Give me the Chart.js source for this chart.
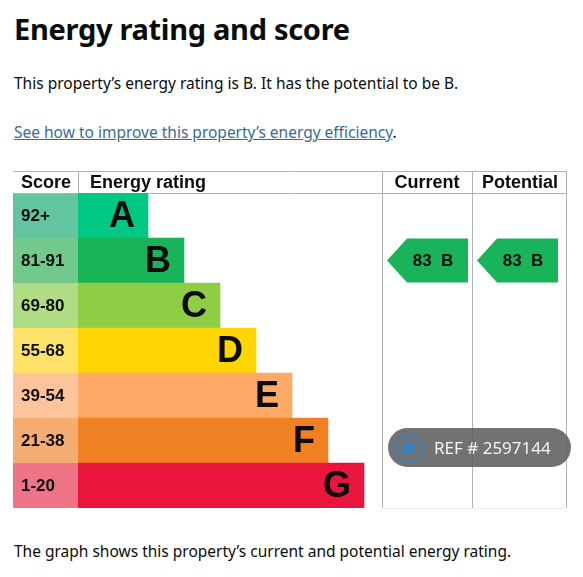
<!DOCTYPE html>
<html>
<head>
<meta charset="utf-8">
<script src="https://cdn.jsdelivr.net/npm/chart.js@4.4.1/dist/chart.umd.min.js"></script>
<style>
  body { margin: 0; width: 583px; height: 577px; background: #fff; font-family: "Noto Sans", sans-serif; color: #0b0c0c; position: relative; overflow: hidden; }
  h1 { position: absolute; left: 14px; top: 9px; margin: 0; font-size: 29px; font-weight: 700; letter-spacing: -0.3px; }
  p { position: absolute; left: 14px; margin: 0; font-size: 15.5px; }
  .intro { top: 72px; }
  .link { top: 121px; }
  .link a { color: #3a6c93; text-decoration: underline; }
  .caption { top: 540px; }
  #wrap { position: absolute; left: 0; top: 160px; width: 583px; height: 360px; }
  .ref { position: absolute; left: 388px; top: 428px; width: 183px; height: 39px; border-radius: 20px; background: rgba(95, 95, 95, 0.88); color: #f4f4f4; font-size: 17px; line-height: 39px; }
  .ref span { position: absolute; left: 46px; }
  .ref i { position: absolute; left: 6px; top: 5px; width: 26px; height: 26px; border: 2px solid #3f7fb8; border-radius: 50%; }
  .ref b { position: absolute; left: 14px; top: 14px; width: 14px; height: 12px; background: #3f7fb8; border-radius: 6px 6px 0 0; }
</style>
</head>
<body>
<h1>Energy rating and score</h1>
<p class="intro">This property’s energy rating is B. It has the potential to be B.</p>
<p class="link"><a>See how to improve this property’s energy efficiency</a>.</p>
<div id="wrap"><canvas id="epc" width="583" height="360"></canvas></div>
<div class="ref"><i></i><b></b><span>REF # 2597144</span></div>
<p class="caption">The graph shows this property’s current and potential energy rating.</p>

<script>
// Полосы рейтинга
const bands = ["A", "B", "C", "D", "E", "F", "G"];
const scoreRanges = ["92+", "81-91", "69-80", "55-68", "39-54", "21-38", "1-20"];
const bandLengths = [70, 106, 142, 178, 214, 250, 286];
const bandColors = ["#00c781", "#19b459", "#8dce46", "#ffd500", "#fcaa65", "#ef8023", "#e9153b"];
const scoreColors = ["#63c5a0", "#71c98d", "#b0dc84", "#fde267", "#fdc49b", "#f5ac72", "#f07488"];

// Текущий и потенциальный рейтинг
const currentScore = 83;
const currentBand = "B";
const potentialScore = 83;
const potentialBand = "B";

const LINE = "#b1b4b6";

const tablePlugin = {
    id: "epcTable",
    beforeDatasetsDraw(chart) {
        const { ctx, scales: { x, y } } = chart;
        const top = 11, head = 33, left = 13, right = 566;
        const bottom = chart.chartArea.bottom;
        const curL = x.getPixelForValue(304), potL = x.getPixelForValue(394);
        ctx.save();
        // ячейки с баллами
        bands.forEach((b, i) => {
            const cy = y.getPixelForValue(i);
            ctx.fillStyle = scoreColors[i];
            ctx.fillRect(left, cy - 22.5, chart.chartArea.left - left, 45);
            ctx.fillStyle = "#0b0c0c";
            ctx.font = "bold 17px 'Liberation Sans', Arial";
            ctx.textBaseline = "middle";
            ctx.fillText(scoreRanges[i], 21, cy + 1);
        });
        // линии таблицы
        ctx.strokeStyle = LINE;
        ctx.lineWidth = 1;
        ctx.beginPath();
        ctx.moveTo(left, top + 0.5); ctx.lineTo(right, top + 0.5);
        ctx.moveTo(left, head + 0.5); ctx.lineTo(right, head + 0.5);
        ctx.moveTo(chart.chartArea.left + 0.5, top); ctx.lineTo(chart.chartArea.left + 0.5, head);
        [curL, potL, right].forEach((px) => {
            ctx.moveTo(px + 0.5, top); ctx.lineTo(px + 0.5, bottom);
        });
        ctx.stroke();
        ctx.strokeStyle = "#ececec";
        ctx.beginPath();
        ctx.moveTo(curL, bottom + 0.5); ctx.lineTo(right, bottom + 0.5);
        ctx.stroke();
        // заголовки
        ctx.fillStyle = "#0b0c0c";
        ctx.font = "bold 18px 'Liberation Sans', Arial";
        ctx.textBaseline = "middle";
        ctx.textAlign = "left";
        ctx.fillText("Score", 21, 23);
        ctx.fillText("Energy rating", 90, 23);
        ctx.textAlign = "center";
        ctx.fillText("Current", (curL + potL) / 2, 23);
        ctx.fillText("Potential", (potL + right) / 2 + 1, 23);
        ctx.restore();
    },
    afterDatasetsDraw(chart) {
        const { ctx, scales: { x, y } } = chart;
        const meta = chart.getDatasetMeta(0);
        ctx.save();
        // буквы на полосах
        ctx.fillStyle = "#0b0c0c";
        ctx.font = "bold 36px 'Liberation Sans', Arial";
        ctx.textAlign = "right";
        ctx.textBaseline = "middle";
        meta.data.forEach((bar, i) => {
            ctx.fillText(bands[i], bar.x - 13, bar.y + 2);
        });
        // стрелки текущего и потенциального рейтинга
        const arrow = (colLeft, score, band) => {
            const idx = bands.indexOf(band);
            const cy = y.getPixelForValue(idx);
            const h = 44, tip = colLeft + 5, flat = tip + 20, end = tip + 81;
            ctx.fillStyle = bandColors[idx];
            ctx.beginPath();
            ctx.moveTo(tip, cy);
            ctx.lineTo(flat, cy - h / 2);
            ctx.lineTo(end, cy - h / 2);
            ctx.lineTo(end, cy + h / 2);
            ctx.lineTo(flat, cy + h / 2);
            ctx.closePath();
            ctx.fill();
            ctx.fillStyle = "#0b0c0c";
            ctx.font = "bold 17px 'Liberation Sans', Arial";
            ctx.textAlign = "center";
            ctx.fillText(score + "  " + band, flat + 26, cy + 1);
        };
        arrow(x.getPixelForValue(304), currentScore, currentBand);
        arrow(x.getPixelForValue(394), potentialScore, potentialBand);
        ctx.restore();
    },
};

new Chart(document.getElementById("epc"), {
    type: "bar",
    data: {
        labels: bands,
        datasets: [{
            data: bandLengths,
            backgroundColor: bandColors,
            barPercentage: 1,
            categoryPercentage: 1,
            borderWidth: 0,
        }],
    },
    options: {
        indexAxis: "y",
        responsive: false,
        animation: false,
        layout: { padding: { left: 78, right: 17, top: 33, bottom: 12 } },
        plugins: { legend: { display: false }, tooltip: { enabled: false } },
        scales: {
            x: { min: 0, max: 488, display: false },
            y: { display: false, offset: true },
        },
    },
    plugins: [tablePlugin],
});
</script>
</body>
</html>
